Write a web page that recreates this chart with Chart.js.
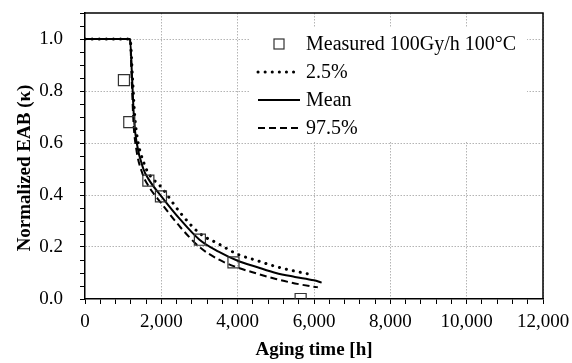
<!DOCTYPE html>
<html>
<head>
<meta charset="utf-8">
<script src="https://cdn.jsdelivr.net/npm/chart.js@4"></script>
<style>
  html, body { margin: 0; padding: 0; background: #fff; }
  #wrap { width: 572px; height: 363px; }
</style>
</head>
<body>
<div id="wrap"><canvas id="eabChart"></canvas></div>
<script>
// measured points
const measuredTime = [1020, 1160, 1660, 1990, 3010, 3890, 5650];
const measuredEAB = [0.842, 0.68, 0.455, 0.395, 0.228, 0.141, 0.0];

// 2.5% bound
const lowTime = [0, 1180, 1245, 1300, 1370, 1550, 1680, 2000, 2500, 3000, 3500, 4000, 4500, 5000, 5500, 6000];
const lowEAB = [1.0, 1.0, 0.85, 0.71, 0.62, 0.52, 0.48, 0.43, 0.331, 0.253, 0.212, 0.172, 0.148, 0.125, 0.107, 0.092];

// mean
const meanTime = [0, 1180, 1235, 1285, 1355, 1530, 1660, 2000, 2500, 3000, 3500, 4000, 4500, 5000, 5500, 6000, 6200];
const meanEAB = [1.0, 1.0, 0.845, 0.69, 0.6, 0.5, 0.462, 0.395, 0.305, 0.228, 0.182, 0.147, 0.123, 0.1, 0.085, 0.072, 0.063];

// 97.5% bound
const highTime = [0, 1180, 1225, 1270, 1340, 1510, 1640, 2000, 2500, 3000, 3500, 4000, 4500, 5000, 5500, 6000, 6100];
const highEAB = [1.0, 1.0, 0.84, 0.68, 0.58, 0.48, 0.44, 0.368, 0.276, 0.2, 0.152, 0.121, 0.098, 0.077, 0.06, 0.047, 0.045];

const xTickLabels = ["0", "2,000", "4,000", "6,000", "8,000", "10,000", "12,000"];
const yTickLabels = ["0.0", "0.2", "0.4", "0.6", "0.8", "1.0"];

const legendLabels = ["Measured 100Gy/h 100°C", "2.5%", "Mean", "97.5%"];

const FONT = "'Liberation Serif', 'Times New Roman', serif";
const GRID = "#b4b4b4";

const toPoints = (xs, ys) => xs.map((x, i) => ({ x: x, y: ys[i] }));

const isMajorX = v => Math.abs(v / 2000 - Math.round(v / 2000)) < 1e-6;
const isMajorY = v => Math.abs(v * 5 - Math.round(v * 5)) < 1e-6;

const lineStyles = [
  { borderDash: [0.1, 7], borderWidth: 3, borderCapStyle: "round" },
  { borderDash: [], borderWidth: 2, borderCapStyle: "butt" },
  { borderDash: [7, 4], borderWidth: 2, borderCapStyle: "butt" }
];

// legend + frame + y title drawn by hand
const extras = {
  id: "extras",
  afterDraw(chart) {
    const ctx = chart.ctx;
    const a = chart.chartArea;
    ctx.save();

    // legend box
    ctx.fillStyle = "#fff";
    ctx.fillRect(249, 27, 278, 114);

    // frame top/right
    ctx.strokeStyle = "#000";
    ctx.lineWidth = 1.5;
    ctx.beginPath();
    ctx.moveTo(a.left, a.top);
    ctx.lineTo(a.right, a.top);
    ctx.lineTo(a.right, a.bottom);
    ctx.stroke();

    const rows = [44, 72, 100, 128];
    ctx.font = "20px " + FONT;
    ctx.fillStyle = "#000";
    ctx.textBaseline = "middle";
    ctx.textAlign = "left";
    legendLabels.forEach((txt, i) => ctx.fillText(txt, 306, rows[i] + 1));

    ctx.strokeStyle = "#333";
    ctx.lineWidth = 1.2;
    ctx.strokeRect(274, rows[0] - 5, 10, 10);

    ctx.strokeStyle = "#000";
    lineStyles.forEach((s, i) => {
      ctx.setLineDash(s.borderDash);
      ctx.lineWidth = s.borderWidth;
      ctx.lineCap = s.borderCapStyle;
      ctx.beginPath();
      ctx.moveTo(258, rows[i + 1]);
      ctx.lineTo(300, rows[i + 1]);
      ctx.stroke();
    });
    ctx.setLineDash([]);

    // y axis title
    ctx.translate(25, 168);
    ctx.rotate(-Math.PI / 2);
    ctx.font = "bold 19px " + FONT;
    ctx.textAlign = "center";
    ctx.textBaseline = "middle";
    ctx.fillText("Normalized EAB (κ)", 0, 0);
    ctx.restore();
  }
};

const curve = (label, xs, ys, style) => Object.assign({
  label: label,
  data: toPoints(xs, ys),
  showLine: true,
  pointRadius: 0,
  borderColor: "#000",
  backgroundColor: "#000",
  cubicInterpolationMode: "monotone",
  fill: false
}, style);

new Chart(document.getElementById("eabChart"), {
  type: "scatter",
  data: {
    datasets: [
      {
        label: legendLabels[0],
        data: toPoints(measuredTime, measuredEAB),
        pointStyle: "rect",
        pointRadius: 7.8,
        pointBorderWidth: 1.2,
        pointBorderColor: "#333",
        pointBackgroundColor: "rgba(0,0,0,0)"
      },
      curve(legendLabels[1], lowTime, lowEAB, lineStyles[0]),
      curve(legendLabels[2], meanTime, meanEAB, lineStyles[1]),
      curve(legendLabels[3], highTime, highEAB, lineStyles[2])
    ]
  },
  options: {
    responsive: true,
    maintainAspectRatio: false,
    animation: false,
    layout: { padding: { top: 13, right: 29, left: 0, bottom: 0 } },
    plugins: {
      legend: { display: false },
      tooltip: { enabled: false }
    },
    scales: {
      x: {
        type: "linear",
        min: 0,
        max: 12000,
        afterFit: s => {
          s.height = 64;
          s.paddingLeft = 0;
          s.paddingRight = 0;
        },
        ticks: {
          stepSize: 400,
          autoSkip: false,
          maxRotation: 0,
          padding: 7,
          color: "#000",
          font: { family: FONT, size: 19 },
          callback: v => isMajorX(v) ? xTickLabels[Math.round(v / 2000)] : ""
        },
        grid: {
          color: c => (c.tick && isMajorX(c.tick.value) && c.tick.value > 0) ? GRID : "rgba(0,0,0,0)",
          tickColor: "#000",
          tickLength: 5,
          lineWidth: 1
        },
        border: { color: "#000", width: 1.5, dash: [1.5, 1.5] },
        title: {
          display: true,
          text: "Aging time [h]",
          color: "#000",
          font: { family: FONT, size: 19, weight: "bold" },
          padding: { top: 0, bottom: 2 }
        }
      },
      y: {
        type: "linear",
        min: 0,
        max: 1.1,
        afterFit: s => {
          s.width = 85;
          s.paddingTop = 0;
          s.paddingBottom = 0;
        },
        ticks: {
          stepSize: 0.05,
          autoSkip: false,
          padding: 17,
          color: "#000",
          font: { family: FONT, size: 19 },
          callback: v => isMajorY(v) ? yTickLabels[Math.round(v * 5)] : ""
        },
        grid: {
          color: c => (c.tick && isMajorY(c.tick.value) && c.tick.value > 0.01) ? GRID : "rgba(0,0,0,0)",
          tickColor: "#000",
          tickLength: 5,
          lineWidth: 1
        },
        border: { color: "#000", width: 1.5, dash: [1.5, 1.5] }
      }
    }
  },
  plugins: [extras]
});
</script>
</body>
</html>
